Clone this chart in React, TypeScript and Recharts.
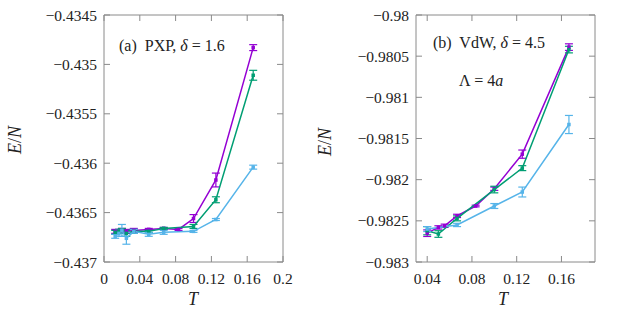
import React from "react";
import { ErrorBar, Line, LineChart, ReferenceArea, XAxis, YAxis } from "recharts";

// panel (a) PXP
const tPurpleA = [0.0125, 0.0167, 0.02, 0.025, 0.0333, 0.05, 0.0667, 0.0833, 0.1, 0.125, 0.1667];
const ePurpleA = [-0.43669, -0.43669, -0.43668, -0.43669, -0.43668, -0.43667, -0.43666, -0.43667, -0.43656, -0.43617, -0.43483];
const errPurpleA = [0.00002, 0.00002, 0.00002, 0.00002, 0.00002, 0.00001, 0.00001, 0.00001, 0.00004, 0.00007, 0.00003];

const tGreenA = [0.0125, 0.0167, 0.02, 0.025, 0.0333, 0.05, 0.0667, 0.1, 0.125, 0.1667];
const eGreenA = [-0.4367, -0.43669, -0.43668, -0.43671, -0.43669, -0.43669, -0.43666, -0.43664, -0.43637, -0.43511];
const errGreenA = [0.00002, 0.00002, 0.00002, 0.00003, 0.00002, 0.00001, 0.00001, 0.00002, 0.00003, 0.00005];

const tBlueA = [0.0125, 0.0167, 0.02, 0.025, 0.0333, 0.05, 0.0667, 0.1, 0.125, 0.1667];
const eBlueA = [-0.43674, -0.43671, -0.43668, -0.43676, -0.43669, -0.43672, -0.4367, -0.43669, -0.43657, -0.43604];
const errBlueA = [0.00002, 0.00003, 0.00006, 0.00006, 0.00002, 0.00002, 0.00002, 0.00001, 0.00001, 0.00002];

const xTicksA = [0, 0.04, 0.08, 0.12, 0.16, 0.2];
const yTicksA = [-0.437, -0.4365, -0.436, -0.4355, -0.435, -0.4345];

// panel (b) VdW
const tPurpleB = [0.04, 0.05, 0.0556, 0.0667, 0.0833, 0.1, 0.125, 0.1667];
const ePurpleB = [-0.98265, -0.98258, -0.98256, -0.98244, -0.98232, -0.98211, -0.98169, -0.98039];
const errPurpleB = [0.00004, 0.00002, 0.00002, 0.00002, 0.00001, 0.00002, 0.00005, 0.00004];

const tGreenB = [0.04, 0.05, 0.0667, 0.1, 0.125, 0.1667];
const eGreenB = [-0.98262, -0.98266, -0.98247, -0.98212, -0.98186, -0.98042];
const errGreenB = [0.00005, 0.00004, 0.00003, 0.00004, 0.00003, 0.00004];

const tBlueB = [0.04, 0.0667, 0.1, 0.125, 0.1667];
const eBlueB = [-0.9826, -0.98255, -0.98232, -0.98215, -0.98133];
const errBlueB = [0.00003, 0.00002, 0.00003, 0.00006, 0.00011];

const xTicksB = [0.04, 0.08, 0.12, 0.16];
const yTicksB = [-0.983, -0.9825, -0.982, -0.9815, -0.981, -0.9805, -0.98];

const PURPLE = "#9400d3";
const GREEN = "#009e73";
const BLUE = "#56b4e9";
const FRAME = "#8a8a8a";
const FONT = "'Liberation Serif', serif";

const rows = (t: number[], e: number[], err: number[]) =>
  t.map((T, i) => ({ T, E: e[i], err: err[i] }));

const fmt = (v: number) => String(v).replace("-", "\u2212");

const square = (color: string, s: number) => (p: any) => (
  <rect key={`${p.cx}-${p.cy}`} x={p.cx - s / 2} y={p.cy - s / 2} width={s} height={s} fill={color} />
);

type Series = { color: string; data: { T: number; E: number; err: number }[] };

type PanelProps = {
  yAxisW: number;
  plotW: number;
  plotH: number;
  xDomain: [number, number];
  yDomain: [number, number];
  xTicks: number[];
  yTicks: number[];
  series: Series[];
};

const tickText: React.CSSProperties = { fontFamily: FONT, fontSize: 15.5 };

function Panel({ yAxisW, plotW, plotH, xDomain, yDomain, xTicks, yTicks, series }: PanelProps) {
  const top = 15;
  const YTick = (p: any) => {
    const ax = p.x + 7;
    return (
      <g>
        <line x1={ax} x2={ax + 6} y1={p.y} y2={p.y} stroke={FRAME} />
        <line x1={ax + plotW - 6} x2={ax + plotW} y1={p.y} y2={p.y} stroke={FRAME} />
        <text x={p.x} y={p.y} textAnchor="end" dominantBaseline="central" style={tickText} fill="#222">
          {fmt(p.payload.value)}
        </text>
      </g>
    );
  };
  const XTick = (p: any) => {
    const ay = p.y - 16;
    return (
      <g>
        <line x1={p.x} x2={p.x} y1={ay} y2={ay - 6} stroke={FRAME} />
        <line x1={p.x} x2={p.x} y1={top} y2={top + 6} stroke={FRAME} />
        <text x={p.x} y={p.y} textAnchor="middle" dominantBaseline="central" style={tickText} fill="#222">
          {fmt(p.payload.value)}
        </text>
      </g>
    );
  };
  return (
    <LineChart
      width={yAxisW + plotW + 28}
      height={312}
      margin={{ top, right: 28, bottom: 0, left: 0 }}
    >
      <XAxis
        dataKey="T"
        type="number"
        domain={xDomain}
        ticks={xTicks}
        allowDataOverflow
        height={312 - top - plotH}
        axisLine={false}
        tickSize={0}
        tickMargin={16}
        tick={XTick}
        interval={0}
      />
      <YAxis
        type="number"
        domain={yDomain}
        ticks={yTicks}
        allowDataOverflow
        width={yAxisW}
        axisLine={false}
        tickSize={0}
        tickMargin={7}
        tick={YTick}
        interval={0}
      />
      <ReferenceArea
        x1={xDomain[0]}
        x2={xDomain[1]}
        y1={yDomain[0]}
        y2={yDomain[1]}
        fill="none"
        stroke={FRAME}
        strokeWidth={1}
        ifOverflow="visible"
      />
      {series.map((s, i) => (
        <Line
          key={i}
          data={s.data}
          dataKey="E"
          stroke={s.color}
          strokeWidth={1.5}
          dot={square(s.color, 3.5)}
          activeDot={false}
          isAnimationActive={false}
        >
          <ErrorBar dataKey="err" width={4} stroke={s.color} strokeWidth={1.2} direction="y" />
        </Line>
      ))}
    </LineChart>
  );
}

const txt: React.CSSProperties = {
  position: "absolute",
  fontFamily: FONT,
  fontSize: 16,
  color: "#222",
  whiteSpace: "pre",
  lineHeight: 1,
};

export default function App() {
  const seriesA: Series[] = [
    { color: PURPLE, data: rows(tPurpleA, ePurpleA, errPurpleA) },
    { color: GREEN, data: rows(tGreenA, eGreenA, errGreenA) },
    { color: BLUE, data: rows(tBlueA, eBlueA, errBlueA) },
  ];
  const seriesB: Series[] = [
    { color: PURPLE, data: rows(tPurpleB, ePurpleB, errPurpleB) },
    { color: GREEN, data: rows(tGreenB, eGreenB, errGreenB) },
    { color: BLUE, data: rows(tBlueB, eBlueB, errBlueB) },
  ];
  return (
    <div style={{ position: "absolute", left: 0, top: 0, width: 623, height: 312, background: "#fff" }}>
      <div style={{ position: "absolute", left: 0, top: 0 }}>
        <Panel
          yAxisW={104}
          plotW={179}
          plotH={247}
          xDomain={[0, 0.2]}
          yDomain={[-0.437, -0.4345]}
          xTicks={xTicksA}
          yTicks={yTicksA}
          series={seriesA}
        />
      </div>
      <div style={{ position: "absolute", left: 311, top: 0 }}>
        <Panel
          yAxisW={105}
          plotW={179}
          plotH={247}
          xDomain={[0.03, 0.19]}
          yDomain={[-0.983, -0.98]}
          xTicks={xTicksB}
          yTicks={yTicksB}
          series={seriesB}
        />
      </div>
      <div style={{ ...txt, left: 119, top: 38 }}>
        (a)  PXP, <i>δ</i> = 1.6
      </div>
      <div style={{ ...txt, left: 433, top: 35 }}>
        (b)  VdW, <i>δ</i> = 4.5
      </div>
      <div style={{ ...txt, left: 459, top: 73 }}>
        Λ = 4<i>a</i>
      </div>
      <div style={{ ...txt, left: 15, top: 140, fontSize: 18, transform: "translate(-50%, -50%) rotate(-90deg)" }}>
        <i>E</i>/<i>N</i>
      </div>
      <div style={{ ...txt, left: 325, top: 142, fontSize: 18, transform: "translate(-50%, -50%) rotate(-90deg)" }}>
        <i>E</i>/<i>N</i>
      </div>
      <div style={{ ...txt, left: 193, top: 299, fontSize: 18, transform: "translate(-50%, -50%)" }}>
        <i>T</i>
      </div>
      <div style={{ ...txt, left: 503, top: 299, fontSize: 18, transform: "translate(-50%, -50%)" }}>
        <i>T</i>
      </div>
    </div>
  );
}
